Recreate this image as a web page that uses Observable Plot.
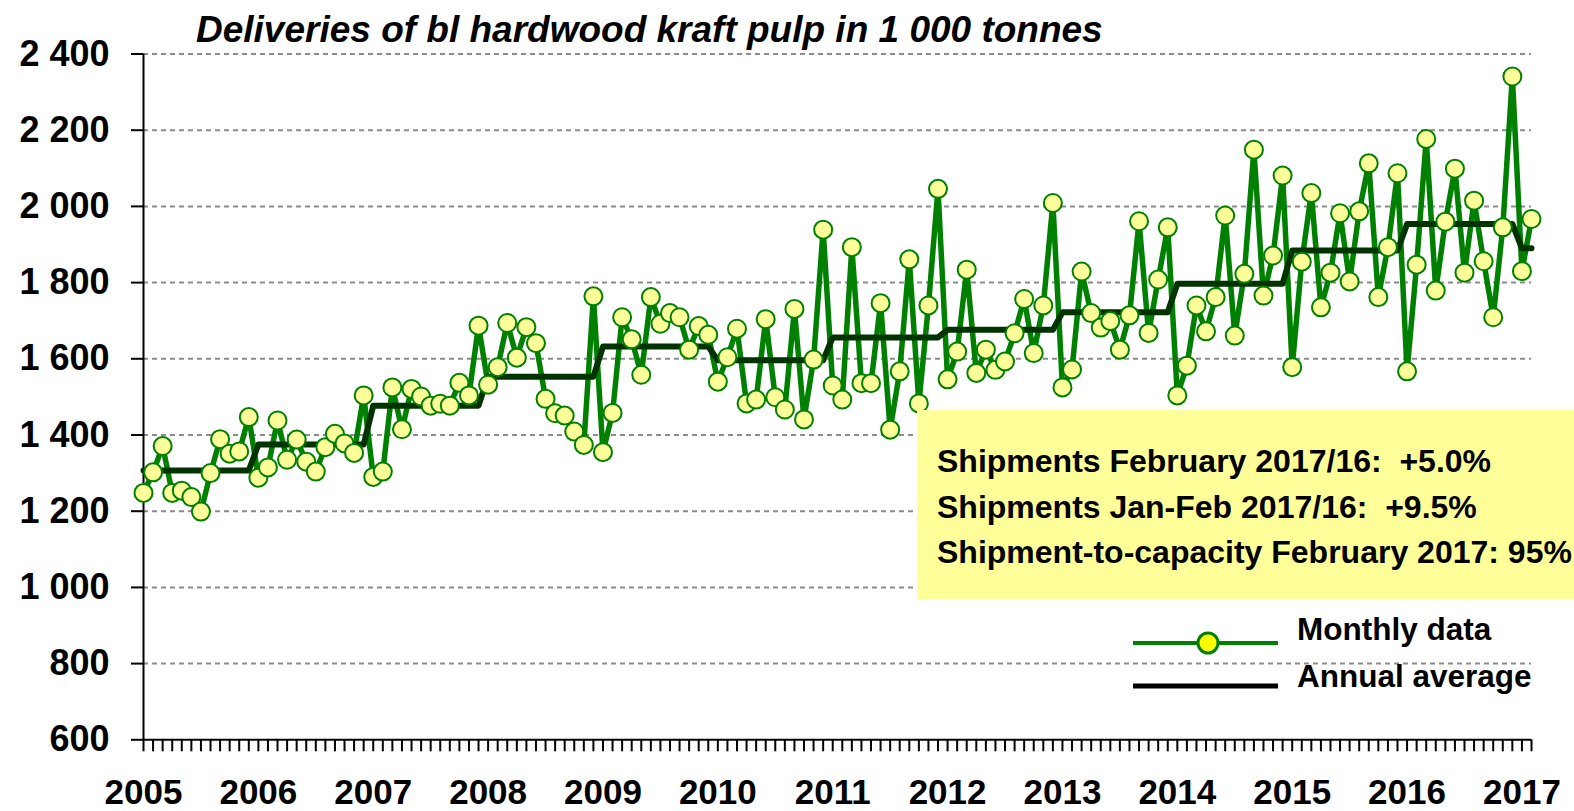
<!DOCTYPE html>
<html>
<head>
<meta charset="utf-8">
<script src="https://cdn.jsdelivr.net/npm/d3@7"></script>
<script src="https://cdn.jsdelivr.net/npm/@observablehq/plot@0.6"></script>
<style>
  html, body { margin: 0; padding: 0; background: #fff; }
  #wrap { position: relative; width: 1574px; height: 811px; overflow: hidden; font-family: "Liberation Sans", Arial, sans-serif; }
  #title { position: relative; z-index: 2; height: 30px; box-sizing: border-box; padding: 11px 0 0 196px; line-height: 1; font-size: 37px; font-weight: bold; font-style: italic; white-space: nowrap; }
  #overlay { position: absolute; left: 0; top: 0; z-index: 3; }
  #overlay text { white-space: pre; }
</style>
</head>
<body>
<div id="wrap">
  <div id="title">Deliveries of bl hardwood kraft pulp in 1 000 tonnes</div>
  <div id="chart"></div>
  <svg id="overlay" width="1574" height="811"></svg>
</div>
<script>
// ---- data ----
const years = [2005, 2006, 2007, 2008, 2009, 2010, 2011, 2012, 2013, 2014, 2015, 2016, 2017];
const monthly = [
  1248,1302,1371,1248,1254,1237,1199,1300,1389,1351,1357,1447, // 2005
  1288,1315,1438,1335,1388,1330,1304,1368,1403,1378,1353,1504, // 2006
  1290,1304,1525,1415,1521,1501,1477,1482,1477,1537,1504,1687, // 2007
  1532,1578,1694,1603,1683,1641,1495,1457,1451,1409,1374,1764, // 2008
  1355,1458,1709,1651,1558,1762,1692,1720,1709,1624,1686,1663, // 2009
  1540,1604,1679,1483,1493,1704,1499,1467,1731,1441,1598,1939, // 2010
  1530,1493,1893,1536,1536,1746,1414,1567,1861,1483,1740,2046, // 2011
  1546,1619,1834,1563,1624,1571,1593,1667,1757,1615,1740,2009, // 2012
  1525,1572,1829,1720,1682,1699,1624,1714,1961,1668,1808,1945, // 2013
  1504,1582,1740,1672,1762,1976,1661,1823,2149,1766,1871,2081, // 2014
  1578,1855,2035,1735,1826,1982,1803,1987,2113,1762,1893,2087, // 2015
  1567,1847,2177,1779,1960,2099,1826,2015,1856,1709,1945,2341, // 2016
  1830,1967                                                    // 2017
];
const annualAverage = [1307, 1375, 1477, 1553, 1632, 1596, 1656, 1676, 1722, 1797, 1884, 1954, 1890];
const yTicks = [600, 800, 1000, 1200, 1400, 1600, 1800, 2000, 2200, 2400];
const statLines = [
  "Shipments February 2017/16:  +5.0%",
  "Shipments Jan-Feb 2017/16:  +9.5%",
  "Shipment-to-capacity February 2017: 95%"
];
const legendLabels = ["Monthly data", "Annual average"];

// ---- derived tables ----
const monthRows = monthly.map((v, i) => ({i, v}));
const avgRows = monthly.map((_, i) => ({i, v: annualAverage[Math.floor(i / 12)]}));
const lastIndex = monthly.length - 1;
const fmt = d => d3.format(",")(d).replace(/,/g, " ");

const chart = Plot.plot({
  width: 1574,
  height: 781,
  marginLeft: 143,
  marginRight: 43,
  marginTop: 23.5,
  marginBottom: 71.7,
  style: {fontFamily: "'Liberation Sans', Arial, sans-serif", fontWeight: "bold", color: "#000", background: "transparent"},
  x: {
    domain: [0, lastIndex],
    ticks: d3.range(0, lastIndex + 1),
    tickFormat: i => (i % 12 === 0 ? String(years[i / 12]) : ""),
    tickSize: 12,
    tickPadding: 27,
    label: null
  },
  y: {
    domain: [600, 2400],
    ticks: yTicks,
    tickFormat: fmt,
    tickSize: 12,
    tickPadding: 22,
    label: null
  },
  marks: [
    Plot.ruleY(yTicks.filter(d => d > 600), {x1: 0, x2: lastIndex, stroke: "#8c8c8c", strokeWidth: 2, strokeDasharray: "5,4"}),
    Plot.ruleY([600], {x1: 0, x2: lastIndex, stroke: "#000", strokeWidth: 2}),
    Plot.ruleX([0], {y1: 600, y2: 2400, stroke: "#000", strokeWidth: 2}),
    Plot.line(monthRows, {x: "i", y: "v", stroke: "#008000", strokeWidth: 5.5, strokeLinejoin: "miter", strokeMiterlimit: 3}),
    Plot.line(avgRows, {x: "i", y: "v", stroke: "#003300", strokeWidth: 6, strokeLinecap: "round"}),
    Plot.dot(monthRows, {x: "i", y: "v", r: 9, fill: "#FFFF99", stroke: "#008000", strokeWidth: 2})
  ]
});
document.getElementById("chart").appendChild(chart);

// axis label styling
const sel = d3.select(chart);
sel.selectAll('[aria-label^="y-axis"] text').style("font-size", "36px").style("font-weight", "bold");
sel.selectAll('[aria-label^="x-axis"] text').style("font-size", "35px").style("font-weight", "bold");
sel.selectAll('[aria-label^="x-axis"] line, [aria-label^="x-axis"] path, [aria-label^="y-axis"] line, [aria-label^="y-axis"] path')
  .style("stroke-width", "2px").style("stroke", "#000");

// ---- overlay: stat box + legend ----
const ov = d3.select("#overlay");
ov.append("rect").attr("x", 917).attr("y", 410).attr("width", 657).attr("height", 189).attr("fill", "#FFFF99");
statLines.forEach((t, k) => {
  ov.append("text")
    .attr("x", 937).attr("y", 472 + k * 45.5)
    .attr("xml:space", "preserve")
    .attr("font-family", "'Liberation Sans', Arial, sans-serif")
    .attr("font-size", 32).attr("font-weight", "bold")
    .text(t);
});
// legend
ov.append("line").attr("x1", 1133).attr("x2", 1278).attr("y1", 643).attr("y2", 643).attr("stroke", "#008000").attr("stroke-width", 4);
ov.append("circle").attr("cx", 1208).attr("cy", 643).attr("r", 10).attr("fill", "#FFFF00").attr("stroke", "#008000").attr("stroke-width", 3);
ov.append("line").attr("x1", 1133).attr("x2", 1278).attr("y1", 686).attr("y2", 686).attr("stroke", "#000").attr("stroke-width", 5);
legendLabels.forEach((t, k) => {
  ov.append("text")
    .attr("x", 1297).attr("y", 640 + k * 47)
    .attr("font-family", "'Liberation Sans', Arial, sans-serif")
    .attr("font-size", 31.5).attr("font-weight", "bold")
    .text(t);
});
</script>
</body>
</html>
